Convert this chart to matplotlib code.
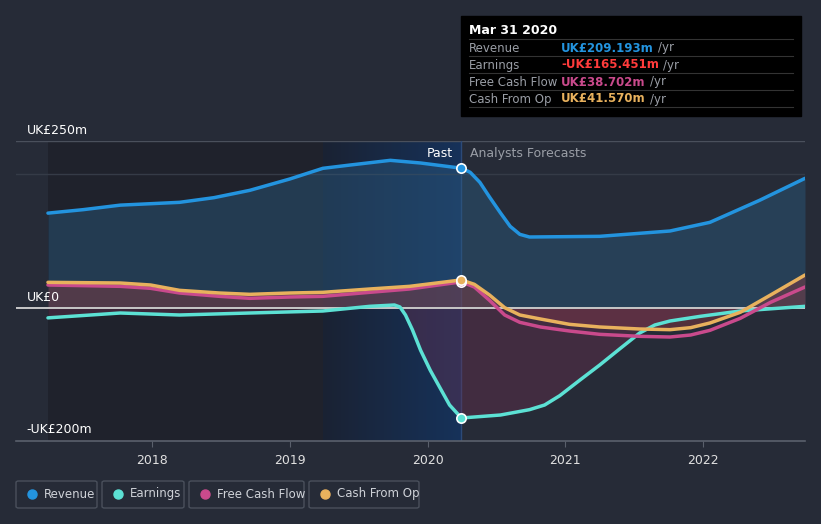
import numpy as np
import matplotlib.pyplot as plt
from matplotlib.colors import LinearSegmentedColormap
from matplotlib.patches import FancyBboxPatch

# --- data (UK£m, x in fractional years) ---
rev_x = [2017.245, 2017.5, 2017.77, 2018.2, 2018.45, 2018.71, 2019.0, 2019.24,
         2019.44, 2019.73, 2019.95, 2020.246, 2020.31, 2020.38, 2020.45,
         2020.53, 2020.60, 2020.67, 2020.74, 2021.25, 2021.76, 2022.05,
         2022.41, 2022.74]
rev_y = [141.8, 147, 153.8, 158, 165, 176, 193, 209, 214, 221, 217, 209.2,
         203, 188, 166, 142, 122, 110, 106, 107, 115, 128, 161, 194]

earn_x = [2017.245, 2017.77, 2018.2, 2018.71, 2019.24, 2019.58, 2019.76,
          2019.80, 2019.84, 2019.89, 2019.95, 2020.02, 2020.09, 2020.16,
          2020.246, 2020.53, 2020.74, 2020.85, 2020.96, 2021.11, 2021.25,
          2021.40, 2021.54, 2021.65, 2021.76, 2021.98, 2022.27, 2022.74]
earn_y = [-15.3, -8, -11, -8, -5, 2, 4, 1, -11, -33, -64, -94, -120, -146,
          -165.5, -161, -153, -146, -132, -108, -86, -61, -38, -26, -20, -13,
          -5, 2]

cf_x = [2017.245, 2017.77, 2017.99, 2018.2, 2018.49, 2018.71, 2019.0, 2019.24,
        2019.58, 2019.87, 2020.246, 2020.34, 2020.45, 2020.56, 2020.67,
        2020.82, 2021.03, 2021.25, 2021.54, 2021.76, 2021.91, 2022.05,
        2022.27, 2022.49, 2022.74]
fcf_y = [34, 32, 29, 22, 17, 14, 16, 17, 23, 28, 38.7, 31, 11, -11, -22,
         -29, -35, -40, -43, -44, -41, -34, -16, 8, 31]
cfo_y = [38, 37, 34, 26, 22, 20, 22, 23, 28, 32, 41.6, 35, 19, 0, -11,
         -17, -25, -29, -32, -33, -30, -23, -7, 19, 49]

year_ticks = [2018, 2019, 2020, 2021, 2022]
past_start, last_year_start, now = 2017.245, 2019.24, 2020.246

C_REV, C_EARN, C_FCF, C_CFO = "#2394df", "#5ce1d4", "#c94a8c", "#e8b15d"
BG = "#262b37"

fig = plt.figure(figsize=(8.21, 5.24), dpi=100, facecolor=BG)
ax = fig.add_axes([16 / 821, 83 / 524, 789 / 821, 300 / 524])
ax.set_facecolor(BG)

# past shading
ax.axvspan(past_start, last_year_start, color="#1d2029", alpha=0.75, lw=0, zorder=0)
grad = np.linspace(0, 1, 256).reshape(1, -1)
cmap = LinearSegmentedColormap.from_list("g", ["#1a2233", "#16325a"])
ax.imshow(grad, extent=[last_year_start, now, -200, 250], aspect="auto",
          cmap=cmap, zorder=0.5)
ax.set_xlim(2017.013, 2022.74)
ax.set_ylim(-200, 250)

ax.axhline(250, color="#4a505c", lw=1, zorder=1)
ax.axhline(200, color="#353b47", lw=1, zorder=1)
ax.axvline(now, color="#2c4a78", lw=1, zorder=1)

# fills
ax.fill_between(rev_x, rev_y, 0, color="#2a5a80", alpha=0.45, lw=0, zorder=2)
ax.fill_between(cf_x, cfo_y, 0, color="#8a3a40", alpha=0.45, lw=0, zorder=2)
ax.fill_between(earn_x, earn_y, 0, color="#6a3050", alpha=0.4, lw=0, zorder=2)

ax.axhline(0, color="#c8c8c8", lw=1.4, zorder=3)

kw = dict(lw=2.5, zorder=4, solid_capstyle="round", solid_joinstyle="round")
ax.plot(rev_x, rev_y, color=C_REV, **kw)
ax.plot(earn_x, earn_y, color=C_EARN, **kw)
ax.plot(cf_x, fcf_y, color=C_FCF, **kw)
ax.plot(cf_x, cfo_y, color=C_CFO, **kw)

for xs, ys, c in [(rev_x, rev_y, C_REV), (earn_x, earn_y, C_EARN),
                  (cf_x, fcf_y, C_FCF), (cf_x, cfo_y, C_CFO)]:
    i = xs.index(now)
    ax.scatter([xs[i]], [ys[i]], s=45, color=c, edgecolor="white", lw=1.2, zorder=5)

for s in ["top", "right", "left"]:
    ax.spines[s].set_visible(False)
ax.spines["bottom"].set_color("#5a606c")
ax.spines["bottom"].set_linewidth(1.2)
ax.set_yticks([])
ax.set_xticks(year_ticks)
ax.set_xticklabels([str(y) for y in year_ticks])
ax.tick_params(axis="x", colors="#5a606c", length=4, labelcolor="#e0e0e0",
               labelsize=9, pad=5)

# y labels
ax.text(2017.09, 256, "UK£250m", color="#ffffff", fontsize=9, va="bottom")
ax.text(2017.09, 6, "UK£0", color="#ffffff", fontsize=9, va="bottom")
ax.text(2017.09, -183, "-UK£200m", color="#ffffff", fontsize=9, va="center")

ax.text(now - 0.06, 232, "Past", color="#ffffff", fontsize=9, ha="right", va="center")
ax.text(now + 0.06, 232, "Analysts Forecasts", color="#9a9ea6", fontsize=9,
        ha="left", va="center")

# tooltip
W, H = 821, 524
fig.patches.append(plt.Rectangle((461 / W, 1 - 116 / H), 340 / W, 100 / H,
                                 transform=fig.transFigure, color="#000000", zorder=10))
fig.text(469 / W, 1 - 30 / H, "Mar 31 2020", color="white", fontsize=9,
         fontweight="bold", va="center", zorder=11)
rows = [("Revenue", "UK£209.193m", C_REV),
        ("Earnings", "-UK£165.451m", "#ff3b3b"),
        ("Free Cash Flow", "UK£38.702m", C_FCF),
        ("Cash From Op", "UK£41.570m", C_CFO)]
fig.canvas.draw()
for k, (lab, val, c) in enumerate(rows):
    yc = 48 + k * 17
    fig.text(469 / W, 1 - yc / H, lab, color="#9a9ea6", fontsize=8.5, va="center", zorder=11)
    t = fig.text(561 / W, 1 - yc / H, val, color=c, fontsize=8.5, fontweight="bold",
                 va="center", zorder=11)
    bb = t.get_window_extent(renderer=fig.canvas.get_renderer())
    fig.text(bb.x1 / W + 4 / W, 1 - yc / H, "/yr", color="#9a9ea6", fontsize=8.5,
             va="center", zorder=11)
    ly = 1 - (yc - 9) / H
    fig.add_artist(plt.Line2D([469 / W, 793 / W], [ly, ly], color="#333333", lw=0.8,
                              transform=fig.transFigure, zorder=11))
ly = 1 - (48 + 4 * 17 - 9) / H
fig.add_artist(plt.Line2D([469 / W, 793 / W], [ly, ly], color="#333333", lw=0.8,
                          transform=fig.transFigure, zorder=11))

# legend boxes
legend = [("Revenue", C_REV, 16, 97), ("Earnings", C_EARN, 102, 184),
          ("Free Cash Flow", C_FCF, 189, 304), ("Cash From Op", C_CFO, 309, 419)]
for lab, c, x0, x1 in legend:
    box = FancyBboxPatch((x0 / W, 1 - 508 / H), (x1 - x0) / W, 27 / H,
                         boxstyle="round,pad=0,rounding_size=0.003",
                         transform=fig.transFigure, facecolor="none",
                         edgecolor="#4a505c", lw=1)
    fig.patches.append(box)
    fig.add_artist(plt.Line2D([(x0 + 16) / W], [1 - 494 / H], marker="o", ms=6.5,
                              color=c, transform=fig.transFigure, lw=0))
    fig.text((x0 + 28) / W, 1 - 494 / H, lab, color="#cfd2d8", fontsize=8.5, va="center")

fig.savefig("out.png", dpi=100, facecolor=BG)
